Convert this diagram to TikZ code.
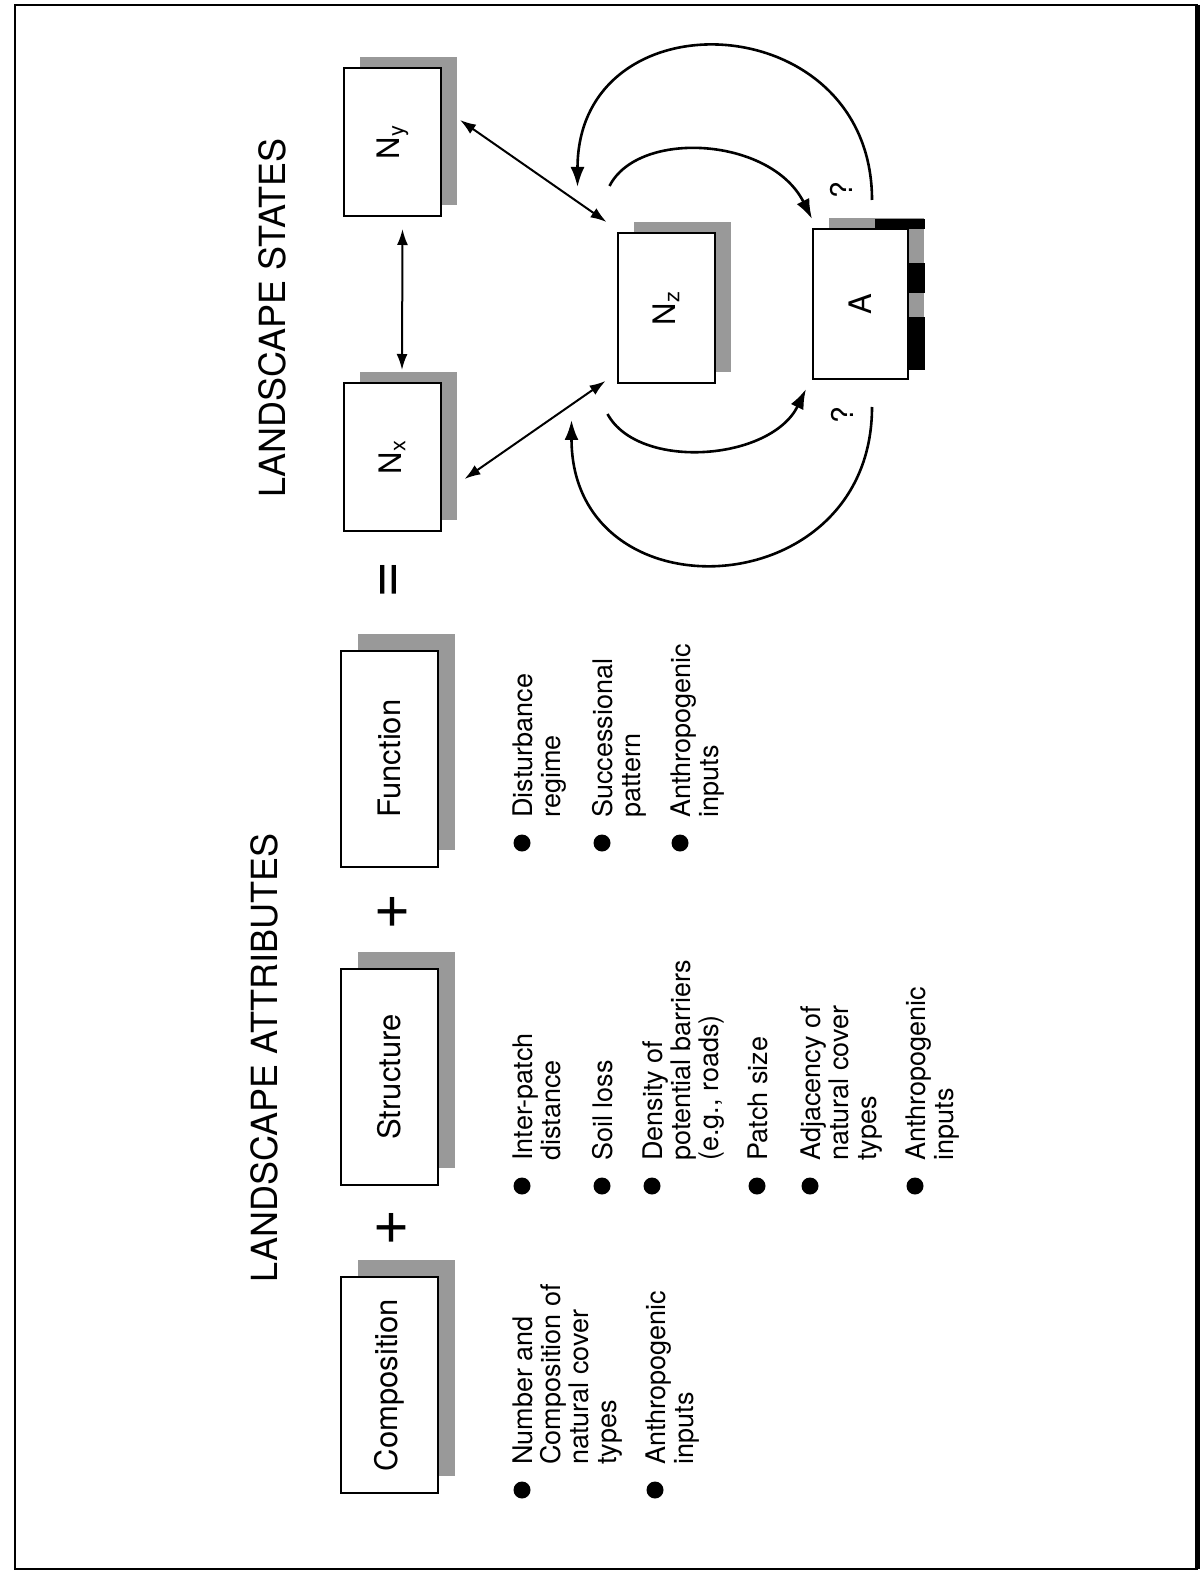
\documentclass[tikz,border=0pt]{standalone}
\usepackage{fontspec}
\setmainfont{TeX Gyre Heros}
\usetikzlibrary{arrows.meta,shadows}
\definecolor{shade}{gray}{0.6}

\begin{document}
\begin{tikzpicture}[x=0.5pt,y=-0.5pt,
  box/.style={draw,line width=1pt,fill=white,inner sep=0pt,minimum width=48.5pt,minimum height=108pt,font=\fontsize{15.5}{18}\selectfont,general shadow={fill=shade,shadow xshift=8.5pt,shadow yshift=8.5pt}},
  state/.style={draw,line width=1pt,fill=white,inner sep=0pt,minimum width=48.5pt,minimum height=75pt,font=\fontsize{15.5}{18}\selectfont,general shadow={fill=shade,shadow xshift=8pt,shadow yshift=5.5pt}},
  title/.style={rotate=90,inner sep=0pt,font=\fontsize{18}{22}\selectfont},
  item/.style={rotate=90,anchor=north west,align=left,inner sep=0pt,font=\fontsize{13.5}{14}\selectfont},
  dot/.style={fill,circle,inner sep=0pt,minimum size=8.5pt},
  sign/.style={rotate=90,inner sep=0pt,font=\fontsize{32}{32}\selectfont},
  quest/.style={rotate=90,inner sep=0pt,font=\fontsize{15}{15}\selectfont},
  link/.style={line width=1pt,>={Latex[length=8pt,width=5.5pt]}},
  loop/.style={line width=1.3pt,>={Latex[length=10pt,width=7pt]}}]
\useasboundingbox (0,0) rectangle (1202,1572);
\draw[line width=1.2pt] (15,5) rectangle (1197,1569);
\draw[line width=2.5pt] (1197,5) -- (1197,1569);

\node[title] (tstates) at (272,318) {LANDSCAPE STATES};
\node[title] (tattr) at (264,1058) {LANDSCAPE ATTRIBUTES};

\node[box] (comp) at (389.5,1385) {\rotatebox{90}{Composition}};
\node[box] (struc) at (389.5,1077) {\rotatebox{90}{Structure}};
\node[box] (func) at (389.5,758.5) {\rotatebox{90}{Function}};
\node[sign] (plus1) at (392,1228) {+};
\node[sign] (plus2) at (393,912) {+};
\node[sign] (equal) at (392,580) {=};

\node[dot] (dc1) at (522,1490) {};
\node[item] (c1) at (512,1465) {Number and\\Composition of\\natural cover\\types};
\node[dot] (dc2) at (655,1490) {};
\node[item] (c2) at (645,1465) {Anthropogenic\\inputs};

\node[dot] (ds1) at (522,1186) {};
\node[item] (s1) at (512,1161) {Inter-patch\\distance};
\node[dot] (ds2) at (602,1186) {};
\node[item] (s2) at (592,1161) {Soil loss};
\node[dot] (ds3) at (652,1186) {};
\node[item] (s3) at (642,1161) {Density of\\potential barriers\\(e.g., roads)};
\node[dot] (ds4) at (757,1186) {};
\node[item] (s4) at (747,1161) {Patch size};
\node[dot] (ds5) at (810,1186) {};
\node[item] (s5) at (800,1161) {Adjacency of\\natural cover\\types};
\node[dot] (ds6) at (915,1186) {};
\node[item] (s6) at (905,1161) {Anthropogenic\\inputs};

\node[dot] (df1) at (522,843) {};
\node[item] (f1) at (512,818) {Disturbance\\regime};
\node[dot] (df2) at (602,843) {};
\node[item] (f2) at (592,818) {Successional\\pattern};
\node[dot] (df3) at (680,843) {};
\node[item] (f3) at (670,818) {Anthropogenic\\inputs};

\node[state,minimum height=74pt] (ny) at (392.5,142) {\rotatebox{90}{N\textsubscript{y}}};
\node[state,minimum height=74pt] (nx) at (392,457) {\rotatebox{90}{N\textsubscript{x}}};
\node[state] (nz) at (666,308) {\rotatebox{90}{N\textsubscript{z}}};
\node[state,minimum width=47.5pt] (a) at (860.5,304) {\rotatebox{90}{A}};
\fill (875,219) rectangle (925,229);
\fill (908,263) rectangle (925,293);
\fill (908,317) rectangle (925,370);

\node[quest] (q1) at (841,190) {?};
\node[quest] (q2) at (842,415) {?};

\draw[link,<->] ([shift={(10,12)}]ny.south) -- ([shift={(10,-12)}]nx.north);
\draw[link,<->] ([shift={(18,-22)}]ny.east) -- ([shift={(-10,-10)}]nz.north west);
\draw[link,<->] ([shift={(23,22)}]nx.east) -- ([shift={(-11,-3)}]nz.south west);
\draw[loop,->] ([shift={(-7,-46)}]nz.north west) .. controls +(29,-57) and +(-41,-82) .. ([shift={(0,-9)}]a.north west);
\draw[loop,->] ([shift={(-9,30)}]nz.south west) .. controls +(31,57) and +(-35,72) .. ([shift={(-6,9)}]a.south west);
\draw[loop,->] ([shift={(-37,-28)}]a.north east) .. controls +(0,-195) and +(0,-195) .. ([shift={(-39,-45)}]nz.north west);
\draw[loop,->] ([shift={(-37,27)}]a.south east) .. controls +(0,200) and +(0,200) .. ([shift={(-45,36)}]nz.south west);
\end{tikzpicture}
\end{document}
